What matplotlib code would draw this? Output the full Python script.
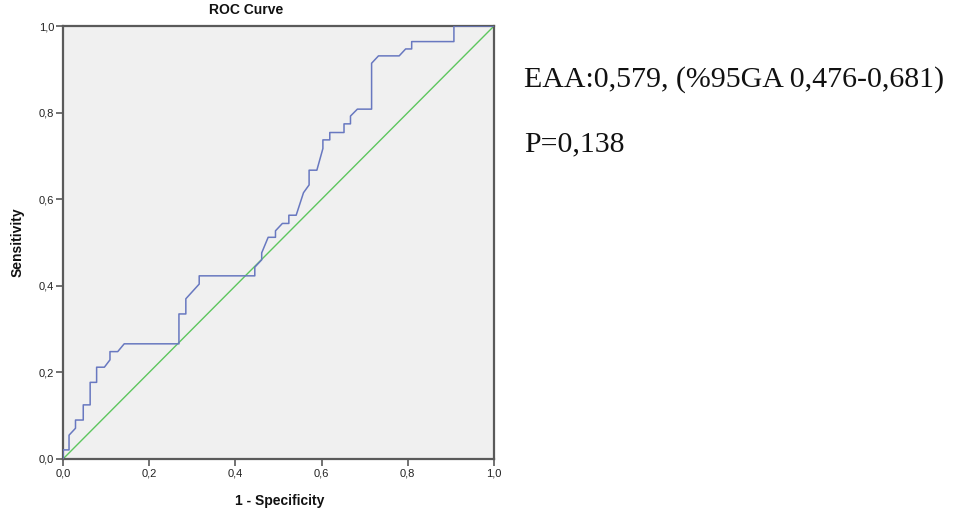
import matplotlib
matplotlib.use("Agg")
import matplotlib.pyplot as plt
from matplotlib.ticker import FixedLocator, FuncFormatter

# ROC curve points (1 - specificity, sensitivity)
fpr = [0, 0, 0.014, 0.014, 0.029, 0.029, 0.047, 0.047, 0.063, 0.063, 0.078, 0.078,
       0.096, 0.109, 0.109, 0.127, 0.142, 0.269, 0.269, 0.285, 0.285, 0.316, 0.316,
       0.445, 0.445, 0.461, 0.461, 0.476, 0.493, 0.493, 0.509, 0.524, 0.524, 0.541,
       0.558, 0.571, 0.571, 0.589, 0.603, 0.603, 0.619, 0.619, 0.652, 0.652, 0.667,
       0.667, 0.683, 0.716, 0.716, 0.732, 0.780, 0.795, 0.809, 0.809, 0.907, 0.907, 1.0]
tpr = [0, 0.021, 0.021, 0.055, 0.071, 0.090, 0.090, 0.125, 0.125, 0.177, 0.177, 0.212,
       0.212, 0.229, 0.248, 0.248, 0.266, 0.266, 0.335, 0.335, 0.370, 0.404, 0.423,
       0.423, 0.443, 0.460, 0.476, 0.512, 0.512, 0.527, 0.544, 0.544, 0.563, 0.563,
       0.615, 0.633, 0.667, 0.667, 0.717, 0.737, 0.737, 0.754, 0.754, 0.774, 0.774,
       0.792, 0.808, 0.808, 0.914, 0.931, 0.931, 0.947, 0.947, 0.964, 0.964, 1.0, 1.0]
ref_x = [0, 1]
ref_y = [0, 1]
ticks = [0.0, 0.2, 0.4, 0.6, 0.8, 1.0]
title = "ROC Curve"
xlabel = "1 - Specificity"
ylabel = "Sensitivity"
line1 = "EAA:0,579, (%95GA 0,476-0,681)"
line2 = "P=0,138"

W, H = 979, 517
fig = plt.figure(figsize=(W / 100, H / 100), dpi=100)
fig.patch.set_facecolor("white")

x0, x1 = 63, 494
ytop, ybot = 26, 459
ax = fig.add_axes([x0 / W, (H - ybot) / H, (x1 - x0) / W, (ybot - ytop) / H])
ax.set_facecolor("#F0F0F0")

ax.plot(ref_x, ref_y, color="#5DC65E", lw=1.0, zorder=2)
ax.plot(fpr, tpr, color="#6878C0", lw=1.1, zorder=3)

ax.set_xlim(0, 1)
ax.set_ylim(0, 1)
ax.xaxis.set_major_locator(FixedLocator(ticks))
ax.yaxis.set_major_locator(FixedLocator(ticks))
fmt = FuncFormatter(lambda v, p: f"{v:.1f}".replace(".", ","))
ax.xaxis.set_major_formatter(fmt)
ax.yaxis.set_major_formatter(fmt)

for s in ax.spines.values():
    s.set_color("#5A5A5A")
    s.set_linewidth(1.6)
ax.tick_params(direction="out", length=5, width=1.2, color="#5A5A5A",
               labelsize=8, labelcolor="#222222", pad=1.5)
for lab in ax.get_xticklabels() + ax.get_yticklabels():
    lab.set_family("Liberation Sans")

fig.text(246.5 / W, 1 - 10 / H, title, ha="center", va="center",
         fontsize=10, fontweight="bold", family="Liberation Sans", color="#111111")
fig.text(279.5 / W, 1 - 501 / H, xlabel, ha="center", va="center",
         fontsize=10, fontweight="bold", family="Liberation Sans", color="#111111")
fig.text(17.5 / W, 1 - 242 / H, ylabel, ha="center", va="center", rotation=90,
         fontsize=10, fontweight="bold", family="Liberation Sans", color="#111111")

fig.text(524 / W, 1 - 86.5 / H, line1, ha="left", va="baseline",
         fontsize=21.5, family="Liberation Serif", color="#111111")
fig.text(524 / W, 1 - 151 / H, line2, ha="left", va="baseline",
         fontsize=21.5, family="Liberation Serif", color="#111111")

fig.savefig("out.png", dpi=100)
